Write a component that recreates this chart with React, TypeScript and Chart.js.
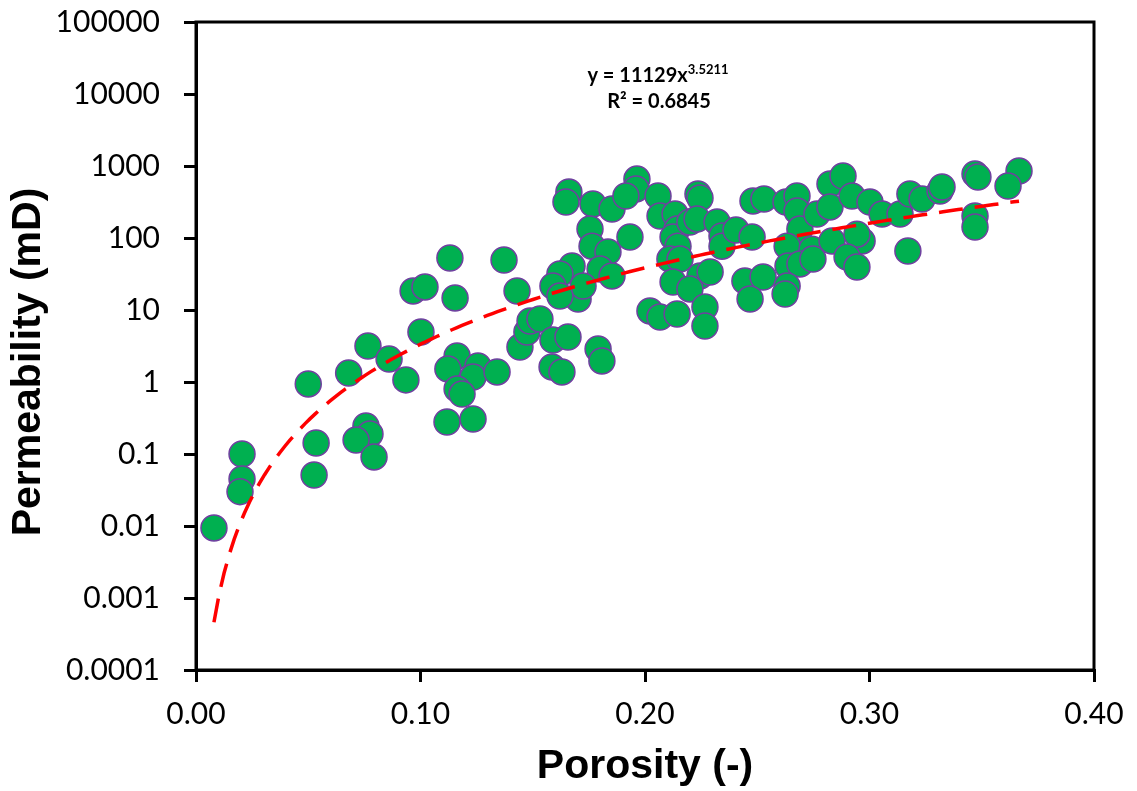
import { useEffect, useRef } from 'react';
import { Chart, registerables } from 'chart.js';

Chart.register(...registerables);

// Porosity (-) of each sample
const POROSITY = [
  0.008, 0.0205, 0.0205, 0.0196, 0.05, 0.0535, 0.0526, 0.068, 0.0766, 0.0757,
  0.0775, 0.0713, 0.0793, 0.086, 0.0935, 0.0967, 0.102, 0.1002, 0.1131, 0.1154,
  0.1163, 0.1122, 0.1256, 0.1234, 0.1341, 0.1163, 0.1185, 0.1118, 0.1234, 0.1372,
  0.143, 0.1443, 0.1474, 0.1488, 0.1532, 0.159, 0.1657, 0.1586, 0.163, 0.1791,
  0.1808,
  0.1964, 0.196, 0.1661, 0.1648, 0.1768, 0.1853, 0.1915, 0.2058, 0.2067, 0.2236,
  0.2245, 0.2134, 0.2143, 0.2125, 0.22, 0.2232, 0.2321, 0.2343, 0.2343, 0.2405,
  0.2481, 0.253, 0.2477, 0.2628, 0.2677, 0.2677, 0.269, 0.2766, 0.2824, 0.2882,
  0.2824, 0.2922, 0.3002, 0.3056, 0.3136, 0.318, 0.3234, 0.3314, 0.3323, 0.347,
  0.3483, 0.3666, 0.3617, 0.347, 0.347, 0.3171, 0.2633, 0.2744, 0.2833, 0.2967,
  0.2944, 0.2637, 0.269, 0.2748, 0.29, 0.2944, 0.2445, 0.2526, 0.2468, 0.2633,
  0.2624,
  0.1755, 0.1764, 0.1835, 0.18, 0.1853, 0.1933, 0.1675, 0.1621, 0.159, 0.1702,
  0.1724, 0.1621, 0.2147, 0.2111, 0.2156, 0.2125, 0.2245, 0.229, 0.22, 0.2022,
  0.2067, 0.2143, 0.2267, 0.2267,
];

// Permeability (mD) of each sample
const PERMEABILITY = [
  0.0094, 0.1, 0.045, 0.03, 0.94, 0.142, 0.051, 1.33, 3.16, 0.245,
  0.19, 0.156, 0.091, 2.08, 1.07, 18.4, 20.9, 4.95, 52.8, 14.7,
  2.3, 1.52, 1.67, 1.17, 1.38, 0.8, 0.68, 0.278, 0.306, 49.5,
  18.4, 3.06, 4.95, 7.03, 7.5, 3.83, 4.22, 1.62, 1.38, 2.87,
  1.96,
  659, 480, 436, 316, 297, 253, 383, 383, 202, 408,
  359, 215, 133, 103, 167, 184, 167, 107, 77, 129,
  327, 348, 103, 316, 383, 237, 133, 215, 562, 727,
  270, 383, 316, 215, 215, 408, 348, 450, 511, 774,
  703, 853, 527, 202, 142, 66, 77, 70, 91, 91,
  113, 40.8, 43.6, 51, 54.5, 39.5, 25.3, 28.7, 14.2, 21.5,
  16.7,
  133, 77, 64, 37, 29.7, 103, 40.8, 31.6, 21.5, 14.2,
  21.5, 15.6, 77, 51, 51, 24.5, 29.7, 33.7, 19.6, 9.7,
  8.0, 8.8, 11, 6.0,
];

const X_TICKS = [0, 0.1, 0.2, 0.3, 0.4];
const X_TICK_LABELS = ['0.00', '0.10', '0.20', '0.30', '0.40'];
const Y_TICKS = [0.0001, 0.001, 0.01, 0.1, 1, 10, 100, 1000, 10000, 100000];
const Y_TICK_LABELS = ['0.0001', '0.001', '0.01', '0.1', '1', '10', '100', '1000', '10000', '100000'];

// Power trendline shown on the chart: y = A * x^B
const TREND_A = 11129;
const TREND_B = 3.5211;
const TREND_R2 = '0.6845';
const TREND_SAMPLES = 160;

const X_TITLE = 'Porosity (-)';
const Y_TITLE = 'Permeability (mD)';

export default function App() {
  const canvasRef = useRef<HTMLCanvasElement | null>(null);

  useEffect(() => {
    const canvas = canvasRef.current;
    if (!canvas) return;

    const points = POROSITY.map((x, i) => ({ x, y: PERMEABILITY[i] }));
    const xMin = Math.min(...POROSITY);
    const xMax = Math.max(...POROSITY);
    const trend: { x: number; y: number }[] = [];
    for (let i = 0; i < TREND_SAMPLES; i++) {
      const x = xMin + ((xMax - xMin) * i) / (TREND_SAMPLES - 1);
      trend.push({ x, y: TREND_A * Math.pow(x, TREND_B) });
    }

    const framePlugin = {
      id: 'frameAndLabels',
      beforeDatasetsDraw(chart: any) {
        const { ctx, chartArea } = chart;
        ctx.save();
        ctx.strokeStyle = '#000';
        ctx.lineWidth = 3;
        ctx.strokeRect(chartArea.left, chartArea.top, chartArea.right - chartArea.left, chartArea.bottom - chartArea.top);
        ctx.restore();
      },
      afterDraw(chart: any) {
        const { ctx } = chart;
        ctx.save();
        ctx.fillStyle = '#000';
        // equation
        const main = 'y = ' + TREND_A + 'x';
        const sup = String(TREND_B);
        ctx.font = 'bold 20px Lato';
        const wMain = ctx.measureText(main).width;
        ctx.font = 'bold 13px Lato';
        const wSup = ctx.measureText(sup).width;
        const cx = 658;
        const startX = cx - (wMain + wSup) / 2;
        ctx.textBaseline = 'alphabetic';
        ctx.textAlign = 'left';
        ctx.font = 'bold 20px Lato';
        ctx.fillText(main, startX, 82);
        ctx.font = 'bold 13px Lato';
        ctx.fillText(sup, startX + wMain, 74);
        ctx.font = 'bold 20px Lato';
        ctx.textAlign = 'center';
        ctx.fillText('R\u00B2 = ' + TREND_R2, 659, 108);

        // y axis title
        ctx.font = 'bold 41px "Liberation Sans", Arial, sans-serif';
        ctx.translate(29, 362);
        ctx.rotate(-Math.PI / 2);
        ctx.textAlign = 'center';
        ctx.textBaseline = 'middle';
        ctx.fillText(Y_TITLE, 0, 0);
        ctx.restore();
      },
    };

    const chart = new Chart(canvas, {
      type: 'scatter',
      data: {
        datasets: [
          {
            type: 'line',
            label: 'Power trend',
            data: trend,
            borderColor: '#FF0000',
            borderWidth: 3.5,
            borderDash: [24, 12],
            pointRadius: 0,
            fill: false,
            tension: 0,
            order: 0,
          } as any,
          {
            label: 'Samples',
            data: points,
            pointRadius: 13,
            pointHoverRadius: 13,
            pointBackgroundColor: '#00B050',
            pointBorderColor: '#7040A0',
            pointBorderWidth: 1.5,
            order: 1,
          },
        ],
      },
      options: {
        animation: false,
        responsive: true,
        maintainAspectRatio: false,
        layout: { padding: { left: 0, top: 22, right: 43, bottom: 0 } },
        plugins: {
          legend: { display: false },
          tooltip: { enabled: false },
        },
        scales: {
          x: {
            type: 'linear',
            min: 0,
            max: 0.4,
            afterBuildTicks: (scale: any) => {
              scale.ticks = X_TICKS.map((v) => ({ value: v }));
            },
            afterFit: (scale: any) => {
              scale.height = 121;
              scale.paddingLeft = 0;
              scale.paddingRight = 0;
            },
            ticks: {
              color: '#000',
              font: { family: 'Lato', size: 30 },
              padding: 14,
              maxRotation: 0,
              callback: (value: any) => {
                const i = X_TICKS.findIndex((t) => Math.abs(t - Number(value)) < 1e-9);
                return i >= 0 ? X_TICK_LABELS[i] : '';
              },
            },
            grid: {
              display: true,
              drawOnChartArea: false,
              drawTicks: true,
              tickLength: 12,
              color: '#000',
              lineWidth: 3,
            },
            border: { display: true, color: '#000', width: 3 },
            title: {
              display: true,
              text: X_TITLE,
              color: '#000',
              font: { family: '"Liberation Sans", Arial, sans-serif', size: 41, weight: 'bold' },
              padding: { top: 0, bottom: 0 },
            },
          },
          y: {
            type: 'logarithmic',
            min: 0.0001,
            max: 100000,
            afterBuildTicks: (scale: any) => {
              scale.ticks = Y_TICKS.map((v) => ({ value: v, major: true }));
            },
            afterFit: (scale: any) => {
              scale.width = 196;
              scale.paddingTop = 0;
              scale.paddingBottom = 0;
            },
            ticks: {
              color: '#000',
              font: { family: 'Lato', size: 30 },
              padding: 24,
              autoSkip: false,
              callback: (value: any) => {
                const v = Number(value);
                const i = Y_TICKS.findIndex((t) => Math.abs(Math.log10(t) - Math.log10(v)) < 1e-6);
                return i >= 0 ? Y_TICK_LABELS[i] : '';
              },
            },
            grid: {
              display: true,
              drawOnChartArea: false,
              drawTicks: true,
              tickLength: 12,
              color: '#000',
              lineWidth: 3,
            },
            border: { display: true, color: '#000', width: 3 },
            title: { display: false, text: Y_TITLE },
          },
        },
      },
      plugins: [framePlugin],
    });

    return () => {
      chart.destroy();
    };
  }, []);

  return (
    <div style={{ position: 'absolute', left: 0, top: 0, width: 1137, height: 791, background: '#fff' }}>
      <canvas ref={canvasRef} style={{ display: 'block' }} />
    </div>
  );
}
